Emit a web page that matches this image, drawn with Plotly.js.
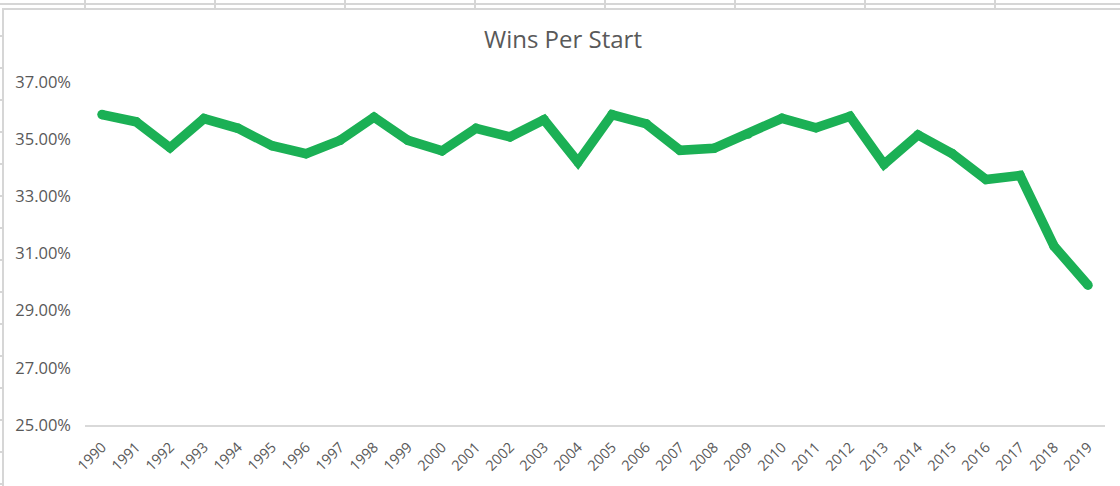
<!DOCTYPE html>
<html>
<head>
<meta charset="utf-8">
<script src="https://cdn.plot.ly/plotly-3.0.1.min.js"></script>
<style>
  html, body { margin: 0; padding: 0; width: 1120px; height: 486px; overflow: hidden; }
  body {
    background-color: #ffffff;
    background-image:
      linear-gradient(to right, #d6d6d6 0, #d6d6d6 2px, transparent 2px),
      linear-gradient(to bottom, #d6d6d6 0, #d6d6d6 2px, transparent 2px);
    background-size: 130px 32px, 130px 32px;
    background-position: 84px 3px, 84px 3px;
  }
  #wrap {
    position: absolute; left: 2px; top: 8px;
    width: 1118px; height: 478px;
    background: #ffffff;
    border-left: 2px solid #d6d6d6;
    border-top: 2px solid #d6d6d6;
  }
  #chart { width: 1118px; height: 478px; }
</style>
</head>
<body>
<div id="wrap"><div id="chart"></div></div>
<script>
const years = ["1990","1991","1992","1993","1994","1995","1996","1997","1998","1999",
               "2000","2001","2002","2003","2004","2005","2006","2007","2008","2009",
               "2010","2011","2012","2013","2014","2015","2016","2017","2018","2019"];
const winsPerStart = [0.3586,0.3561,0.3470,0.3572,0.3538,0.3477,0.3449,0.3496,0.3577,0.3496,
                      0.3459,0.3538,0.3508,0.3568,0.3420,0.3586,0.3554,0.3461,0.3468,0.3518,
                      0.3573,0.3540,0.3580,0.3412,0.3515,0.3450,0.3359,0.3373,0.3126,0.2989];
const yTicks = [0.25,0.27,0.29,0.31,0.33,0.35,0.37];

const trace = {
  x: years,
  y: winsPerStart,
  type: 'scatter',
  mode: 'lines+markers',
  line: { color: '#1bb055', width: 9.5 },
  marker: { color: '#1bb055', size: 9.5 },
  hoverinfo: 'x+y'
};

const layout = {
  width: 1118, height: 478,
  margin: { l: 81, r: 17, t: 72, b: 63, pad: 0 },
  paper_bgcolor: 'rgba(0,0,0,0)',
  plot_bgcolor: '#ffffff',
  showlegend: false,
  font: { family: 'Open Sans, sans-serif', color: '#595959' },
  title: {
    text: 'Wins Per Start',
    font: { family: 'Open Sans, sans-serif', size: 24, color: '#595959' },
    x: 0.5, xref: 'container', xanchor: 'center',
    y: 1 - 30/478, yref: 'container', yanchor: 'middle'
  },
  xaxis: {
    type: 'category',
    range: [-0.5, 29.5],
    showgrid: false,
    zeroline: false,
    showline: true,
    linecolor: '#d9d9d9',
    linewidth: 2,
    ticks: '',
    tickangle: -45,
    tickfont: { family: 'Open Sans, sans-serif', size: 14.5, color: '#595959' },
    ticklabelstandoff: 6,
    automargin: false
  },
  yaxis: {
    range: [0.25, 0.37],
    tickvals: yTicks,
    tickformat: '.2%',
    showgrid: false,
    zeroline: false,
    showline: false,
    ticks: '',
    tickfont: { family: 'Open Sans, sans-serif', size: 16.5, color: '#595959' },
    ticklabelstandoff: 13,
    automargin: false
  }
};

Plotly.newPlot('chart', [trace], layout, { displayModeBar: false, responsive: false });
</script>
</body>
</html>
